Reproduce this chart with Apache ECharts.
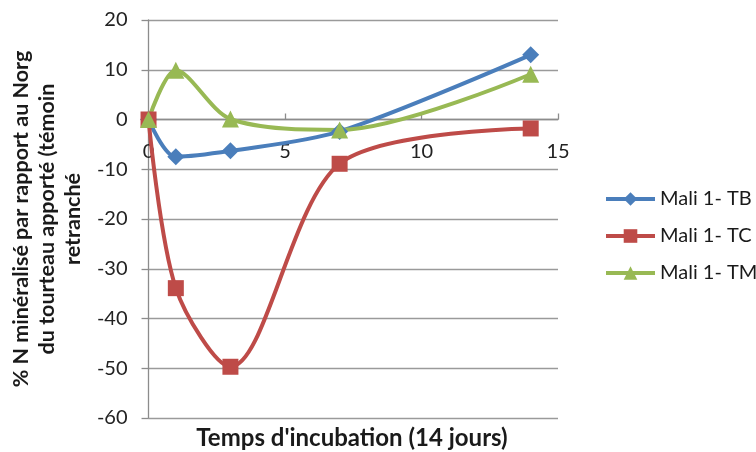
<!DOCTYPE html>
<html>
<head>
<meta charset="utf-8">
<script src="https://cdn.jsdelivr.net/npm/echarts@6/dist/echarts.min.js"></script>
<style>
  html, body { margin: 0; padding: 0; background: #ffffff; }
  #chart { width: 756px; height: 452px; }
</style>
</head>
<body>
<div id="chart"></div>
<script>
// Incubation days sampled
const days = [0, 1, 3, 7, 14];

// % N mineralised relative to supplied Norg, per treatment
const tbValues = [0, -7.5, -6.3, -2.4, 13.0];
const tcValues = [0, -33.9, -49.7, -8.9, -1.8];
const tmValues = [0, 9.9, 0.1, -2.1, 9.1];

const seriesNames = ['Mali 1- TB', 'Mali 1- TC', 'Mali 1- TM'];

const yTitle = '% N minéralisé par rapport au Norg\ndu tourteau apporté (témoin\nretranché';
const xTitle = "Temps d'incubation (14 jours)";

const FONT = 'Lato, "Open Sans", sans-serif';

// Plot frame
const GRID = { left: 147, right: 198, top: 20, bottom: 34 };
const Y_MIN = -60, Y_MAX = 20;
const plotHeight = 452 - GRID.top - GRID.bottom;
// shift the x axis up from the bottom edge to the y = 0 line
const zeroOffset = -plotHeight * (0 - Y_MIN) / (Y_MAX - Y_MIN);

function pairs(vals) {
  return days.map((d, i) => [d, vals[i]]);
}

const chart = echarts.init(document.getElementById('chart'), null, { renderer: 'canvas' });

const lineSeries = (name, vals, color, symbol, size) => ({
  name: name,
  type: 'line',
  data: pairs(vals),
  smooth: 0.3,
  symbol: symbol,
  symbolSize: size,
  showAllSymbol: true,
  lineStyle: { color: color, width: 4 },
  itemStyle: { color: color },
  emphasis: { disabled: true },
  z: 3
});

chart.setOption({
  animation: false,
  backgroundColor: '#ffffff',
  grid: Object.assign({ containLabel: false }, GRID),
  legend: {
    orient: 'vertical',
    left: 599,
    top: 184,
    itemWidth: 49,
    itemHeight: 17,
    itemGap: 17,
    lineStyle: { width: 4 },
    textStyle: { fontFamily: FONT, fontSize: 20, color: '#1a1a1a' },
    data: seriesNames
  },
  xAxis: {
    type: 'value',
    min: 0,
    max: 15,
    interval: 5,
    position: 'bottom',
    offset: zeroOffset,
    axisLine: { onZero: false, lineStyle: { color: '#8c8c8c', width: 1.3 } },
    axisTick: { show: true, inside: true, length: 6, lineStyle: { color: '#8c8c8c', width: 1.3 } },
    axisLabel: { margin: 22, fontFamily: FONT, fontSize: 20, color: '#222222' },
    splitLine: { show: false }
  },
  yAxis: {
    type: 'value',
    min: Y_MIN,
    max: Y_MAX,
    interval: 10,
    name: yTitle,
    nameLocation: 'middle',
    nameGap: 59,
    nameRotate: 90,
    nameTextStyle: {
      fontFamily: FONT, fontSize: 21.5, fontWeight: 'bold', color: '#1a1a1a',
      lineHeight: 26, align: 'center'
    },
    axisLine: { show: true, lineStyle: { color: '#8c8c8c', width: 1.3 } },
    axisTick: { show: true, length: 7, lineStyle: { color: '#8c8c8c', width: 1.3 } },
    axisLabel: { margin: 21, fontFamily: FONT, fontSize: 20, color: '#222222' },
    splitLine: { show: true, lineStyle: { color: '#9a9a9a', width: 1.3 } }
  },
  graphic: [{
    type: 'text',
    x: 352,
    y: 438,
    style: {
      text: xTitle,
      font: 'bold 24px ' + FONT,
      fill: '#1a1a1a',
      align: 'center',
      verticalAlign: 'middle'
    }
  }],
  series: [
    lineSeries(seriesNames[0], tbValues, '#4a7ebb', 'diamond', 17),
    lineSeries(seriesNames[1], tcValues, '#be4b48', 'rect', 16),
    lineSeries(seriesNames[2], tmValues, '#98b954', 'triangle', 17)
  ]
});
</script>
</body>
</html>
